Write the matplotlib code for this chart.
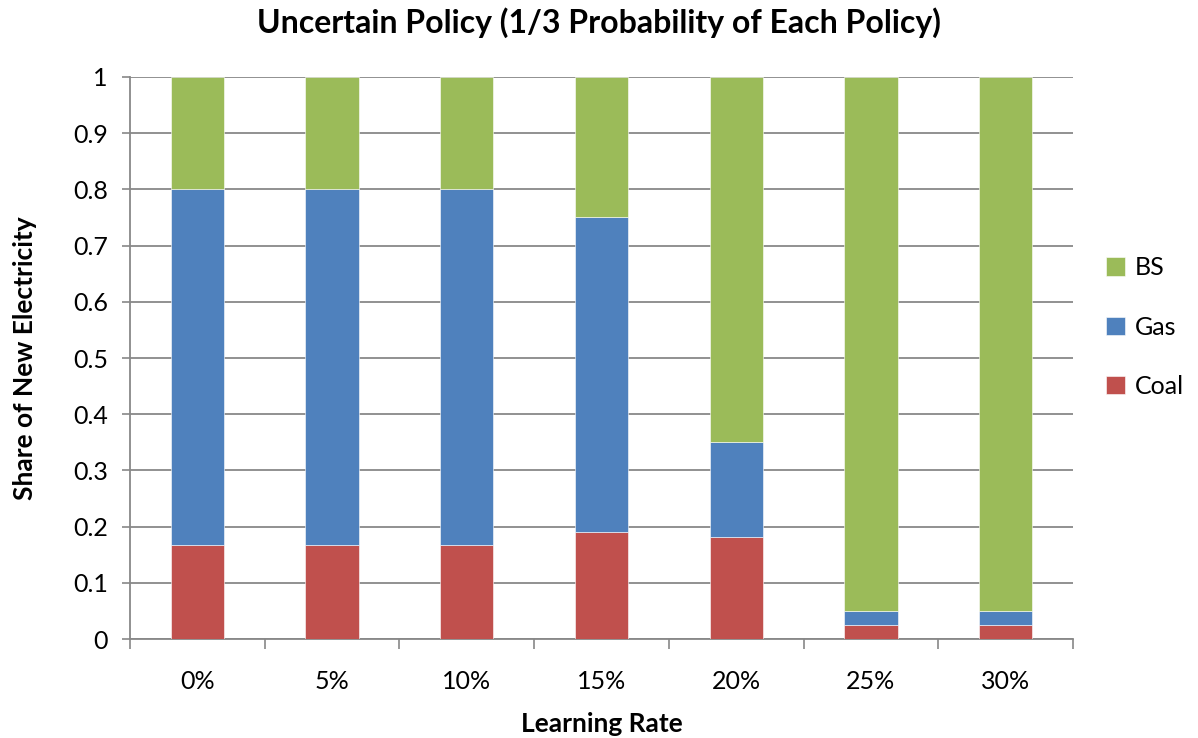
import numpy as np
from matplotlib import pyplot as plt
from matplotlib.ticker import FuncFormatter

rates = ["0%", "5%", "10%", "15%", "20%", "25%", "30%"]
coal = [0.168, 0.168, 0.168, 0.190, 0.181, 0.025, 0.025]
gas = [0.632, 0.632, 0.632, 0.560, 0.169, 0.025, 0.025]
bs = [0.20, 0.20, 0.20, 0.25, 0.65, 0.95, 0.95]

plt.rcParams['font.family'] = ['Lato', 'DejaVu Sans']

fig = plt.figure(figsize=(11.98, 7.38), dpi=100)
ax = fig.add_axes([0.1085, 0.1341, 0.7872, 0.7616])

x = np.arange(len(rates))
w = 0.395
edge = dict(edgecolor="white", linewidth=0.4)
ax.bar(x, coal, w, color="#C0504D", label="Coal", zorder=3, **edge)
ax.bar(x, gas, w, bottom=coal, color="#4F81BD", label="Gas", zorder=3, **edge)
bottom2 = np.array(coal) + np.array(gas)
ax.bar(x, bs, w, bottom=bottom2, color="#9BBB59", label="BS", zorder=3, **edge)

ax.set_xlim(-0.5, len(rates) - 0.5)
ax.set_ylim(0, 1)
ax.set_yticks(np.arange(0, 1.01, 0.1))
ax.yaxis.set_major_formatter(FuncFormatter(lambda v, p: f"{v:g}"))
ax.yaxis.grid(True, color="#888888", linewidth=1.3, zorder=0)
ax.set_axisbelow(True)

ax.set_xticks(x)
ax.set_xticklabels(rates)
ax.set_xticks(np.arange(-0.5, len(rates)), minor=True)
ax.tick_params(axis="x", which="major", length=0, pad=22, labelsize=18)
ax.tick_params(axis="x", which="minor", length=7, color="#888888", width=1.2)
ax.tick_params(axis="y", length=6, color="#888888", width=1.2, pad=10, labelsize=18)

for s in ["top", "right"]:
    ax.spines[s].set_visible(False)
for s in ["left", "bottom"]:
    ax.spines[s].set_color("#888888")
    ax.spines[s].set_linewidth(1.3)

ax.set_xlabel("Learning Rate", fontsize=19, fontweight="bold", labelpad=14)
ax.set_ylabel("Share of New Electricity", fontsize=19, fontweight="bold", labelpad=26)
fig.suptitle("Uncertain Policy (1/3 Probability of Each Policy)", fontsize=23,
             fontweight="bold", x=0.5, y=0.99)

handles, labels = ax.get_legend_handles_labels()
ax.legend(handles[::-1], labels[::-1], loc="center left", bbox_to_anchor=(1.035, 0.555),
          frameon=False, fontsize=18, handlelength=0.75, handleheight=0.75,
          labelspacing=1.45, handletextpad=0.4, borderpad=0, borderaxespad=0)

fig.savefig("out.png")
